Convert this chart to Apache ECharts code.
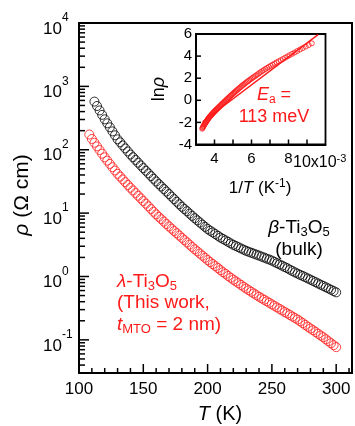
<!DOCTYPE html>
<html>
<head>
<meta charset="utf-8">
<title>Resistivity of Ti3O5</title>
<script src="https://cdn.jsdelivr.net/npm/echarts@6/dist/echarts.min.js"></script>
<style>
  html, body { margin: 0; padding: 0; background: #fff; }
  #chart { width: 355px; height: 426px; }
</style>
</head>
<body>
<div id="chart"></div>
<script>
// temperature grid (K), shared by both samples
const temps = [
  108, 110, 112, 114, 116, 118, 120, 122, 124, 126,
  128, 130, 132, 134, 136, 138, 140, 142, 144, 146,
  148, 150, 152, 154, 156, 158, 160, 162, 164, 166,
  168, 170, 172, 174, 176, 178, 180, 182, 184, 186,
  188, 190, 192, 194, 196, 198, 200, 202, 204, 206,
  208, 210, 212, 214, 216, 218, 220, 222, 224, 226,
  228, 230, 232, 234, 236, 238, 240, 242, 244, 246,
  248, 250, 252, 254, 256, 258, 260, 262, 264, 266,
  268, 270, 272, 274, 276, 278, 280, 282, 284, 286,
  288, 290, 292, 294, 296, 298, 300
];

// beta-Ti3O5 bulk, rho in Ohm cm (no points below 112 K)
const rhoBulk = [
  null, null, 575, 490, 417, 355, 302, 261, 226, 195,
  169, 146, 131, 117, 105, 94.0, 84.1, 76.2, 69.0, 62.5,
  56.6, 51.3, 46.6, 42.3, 38.4, 34.8, 31.6, 28.8, 26.3, 24.0,
  21.9, 20.0, 18.2, 16.6, 15.1, 13.8, 12.6, 11.6, 10.7, 9.82,
  9.04, 8.32, 7.69, 7.11, 6.58, 6.08, 5.62, 5.28, 4.97, 4.67,
  4.39, 4.12, 3.91, 3.71, 3.52, 3.33, 3.16, 3.03, 2.90, 2.77,
  2.65, 2.54, 2.45, 2.37, 2.29, 2.21, 2.14, 2.06, 1.99, 1.91,
  1.85, 1.78, 1.70, 1.62, 1.55, 1.48, 1.41, 1.35, 1.28, 1.22,
  1.16, 1.11, 1.06, 1.02, 0.973, 0.931, 0.891, 0.851, 0.813, 0.776,
  0.741, 0.708, 0.676, 0.646, 0.617, 0.589, 0.562
];

// lambda-Ti3O5 film (t_MTO = 2 nm), rho in Ohm cm
const rhoFilm = [
  174, 148, 129, 113, 99.1, 86.7, 75.9, 67.3, 59.7, 53.0,
  47.0, 41.7, 37.7, 34.0, 30.8, 27.8, 25.1, 22.8, 20.7, 18.8,
  17.1, 15.5, 14.1, 12.8, 11.6, 10.5, 9.55, 8.75, 8.02, 7.35,
  6.73, 6.17, 5.68, 5.22, 4.81, 4.43, 4.07, 3.75, 3.45, 3.18,
  2.92, 2.69, 2.49, 2.30, 2.13, 1.97, 1.82, 1.69, 1.57, 1.46,
  1.36, 1.26, 1.17, 1.10, 1.02, 0.955, 0.891, 0.836, 0.783, 0.735,
  0.689, 0.646, 0.608, 0.573, 0.540, 0.508, 0.479, 0.453, 0.429, 0.406,
  0.384, 0.363, 0.344, 0.325, 0.308, 0.291, 0.275, 0.261, 0.247, 0.233,
  0.221, 0.209, 0.196, 0.184, 0.172, 0.161, 0.151, 0.142, 0.133, 0.125,
  0.117, 0.110, 0.102, 0.0951, 0.0885, 0.0824, 0.0767
];

// Arrhenius fit line in the inset (1/T in 1e-3 K^-1, ln rho)
const fitInvT = [3.36, 9.6];
const fitLnRho = [-1.94, 5.94];

// tick positions
const xMajorTicks = [150, 200, 250, 300];
const xMinorTicks = [110, 120, 130, 140, 160, 170, 180, 190, 210, 220, 230, 240, 260, 270, 280, 290, 310];
const yMajorTicks = [0.1, 1, 10, 100, 1000];
const yMinorTicks = [
  0.04, 0.05, 0.06, 0.07, 0.08, 0.09,
  0.2, 0.3, 0.4, 0.5, 0.6, 0.7, 0.8, 0.9,
  2, 3, 4, 5, 6, 7, 8, 9,
  20, 30, 40, 50, 60, 70, 80, 90,
  200, 300, 400, 500, 600, 700, 800, 900,
  2000, 3000, 4000, 5000, 6000, 7000, 8000, 9000
];
const insetXTicks = [4, 5, 6, 7, 8, 9];
const insetXLabels = [4, 6, 8];
const insetYTicks = [-2, 0, 2, 4];

const FONT = 'Liberation Sans, Arial, Helvetica, sans-serif';
const RED = '#ff1a1a';

function rs(size, extra) {
  return Object.assign({ fontSize: size, fontFamily: FONT }, extra || {});
}

const bulkData = [];
const filmData = [];
const insetData = [];
temps.forEach((t, i) => {
  if (rhoBulk[i] != null) bulkData.push([t, rhoBulk[i]]);
  filmData.push([t, rhoFilm[i]]);
  insetData.push([1000 / t, Math.log(rhoFilm[i])]);
});
const fitData = fitInvT.map((x, i) => [x, fitLnRho[i]]);

const chart = echarts.init(document.getElementById('chart'), null, { renderer: 'canvas' });

function axisLine(w) {
  return { show: true, onZero: false, lineStyle: { color: '#000', width: w } };
}

chart.setOption({
  animation: false,
  backgroundColor: '#fff',
  grid: [
    { left: 79, right: 3, top: 23, bottom: 53, show: true, borderColor: '#000', borderWidth: 2 },
    { left: 196, right: 29.5, top: 34, bottom: 281.5, show: true, borderColor: '#000', borderWidth: 1.8,
      backgroundColor: '#fff' }
  ],
  xAxis: [
    {
      gridIndex: 0, type: 'value', min: 100, max: 312.3, interval: 50,
      axisLine: axisLine(2),
      axisTick: { show: false },
      axisLabel: { color: '#000', fontSize: 17, fontFamily: FONT, margin: 8,
        formatter: v => (v <= 300 ? String(v) : '') },
      splitLine: { show: false }
    },
    {
      gridIndex: 1, type: 'value', min: 3, max: 10, interval: 1,
      axisLine: axisLine(1.8),
      axisTick: { show: false },
      axisLabel: { color: '#000', fontSize: 15, fontFamily: FONT, margin: 7,
        formatter: v => (insetXLabels.indexOf(v) >= 0 ? String(v) : '') },
      splitLine: { show: false }
    }
  ],
  yAxis: [
    {
      gridIndex: 0, type: 'log', min: 0.03, max: 10000,
      axisLine: axisLine(2),
      axisTick: { show: false },
      axisLabel: {
        color: '#000', fontSize: 17, fontFamily: FONT, margin: 36, align: 'left',
        formatter: v => {
          const e = Math.round(Math.log10(v));
          if (Math.abs(Math.log10(v) - e) > 1e-6) return '';
          return '{b|10}{sup|' + e + '}';
        },
        rich: {
          b: rs(17, { color: '#000', padding: [12, 0, 0, 0] }),
          sup: rs(12, { color: '#000', padding: [0, 0, 10, 0] })
        }
      },
      splitLine: { show: false }
    },
    {
      gridIndex: 1, type: 'value', min: -4, max: 6, interval: 2,
      axisLine: axisLine(1.8),
      axisTick: { show: false },
      axisLabel: { color: '#000', fontSize: 15, fontFamily: FONT, margin: 4 },
      splitLine: { show: false }
    }
  ],
  series: [
    {
      name: 'beta-Ti3O5 (bulk)', type: 'scatter', xAxisIndex: 0, yAxisIndex: 0,
      symbol: 'circle', symbolSize: 9, data: bulkData,
      itemStyle: { color: 'rgba(0,0,0,0)', borderColor: '#000', borderWidth: 1 }
    },
    {
      name: 'lambda-Ti3O5', type: 'scatter', xAxisIndex: 0, yAxisIndex: 0,
      symbol: 'circle', symbolSize: 9, data: filmData,
      itemStyle: { color: 'rgba(0,0,0,0)', borderColor: RED, borderWidth: 1 }
    },
    {
      name: 'inset', type: 'scatter', xAxisIndex: 1, yAxisIndex: 1,
      symbol: 'circle', symbolSize: 5, data: insetData,
      itemStyle: { color: 'rgba(0,0,0,0)', borderColor: RED, borderWidth: 1 }
    },
    {
      name: 'fit', type: 'line', xAxisIndex: 1, yAxisIndex: 1,
      showSymbol: false, data: fitData,
      lineStyle: { color: RED, width: 1.5 }
    }
  ]
});

// text placed on the page: axis titles and annotations
function label(x, y, text, size, color, opts) {
  opts = opts || {};
  return {
    type: 'text', x: x, y: y, rotation: opts.rotation || 0, z: 20,
    style: {
      text: text, fill: color, fontSize: size, fontFamily: FONT, lineHeight: opts.lineHeight,
      align: opts.align || 'center', verticalAlign: 'middle',
      rich: {
        i: rs(size, { fontStyle: 'italic', fill: color, lineHeight: opts.lineHeight }),
        s: rs(Math.round(size * 0.68), { fill: color, lineHeight: opts.lineHeight, padding: [9, 0, 0, 0] }),
        sup: rs(Math.round(size * 0.68), { fill: color, padding: [0, 0, 9, 0] })
      }
    }
  };
}

const graphics = [
  label(220, 414, '{i|T} (K)', 20, '#000'),
  label(22, 195, '{i|ρ} (Ω cm)', 21, '#000', { rotation: Math.PI / 2 }),
  label(260, 188, '1/{i|T} (K{sup|-1})', 17, '#000'),
  label(159, 89, 'ln{i|ρ}', 18, '#000', { rotation: Math.PI / 2 }),
  label(293, 163, '10x10{sup|-3}', 16, '#000', { align: 'left' }),
  label(299, 239, '{i|β}-Ti{s|3}O{s|5}\n(bulk)', 19, '#000', { lineHeight: 22 }),
  label(117, 303, '{i|λ}-Ti{s|3}O{s|5}\n(This work,\n{i|t}{s|MTO} = 2 nm)', 19, RED,
    { align: 'left', lineHeight: 21.5 }),
  label(274, 106, '{i|E}{s|a} =\n113 meV', 18, RED, { lineHeight: 22 })
];

// inward tick marks, placed through the axes' own scales
function addTick(gridIndex, value, dx, dy) {
  const p = chart.convertToPixel({ gridIndex: gridIndex }, value);
  if (!p) return;
  graphics.push({
    type: 'line', z: 10, silent: true,
    shape: { x1: p[0], y1: p[1], x2: p[0] + dx, y2: p[1] + dy },
    style: { stroke: '#000', lineWidth: 1.5 }
  });
}
xMajorTicks.forEach(t => addTick(0, [t, 0.03], 0, -9));
xMinorTicks.forEach(t => addTick(0, [t, 0.03], 0, -5));
yMajorTicks.forEach(v => addTick(0, [100, v], 10, 0));
yMinorTicks.forEach(v => addTick(0, [100, v], 6, 0));
insetXTicks.forEach(t => addTick(1, [t, -4], 0, -5));
insetYTicks.forEach(v => addTick(1, [3, v], 5, 0));

chart.setOption({ graphic: graphics });
</script>
</body>
</html>
